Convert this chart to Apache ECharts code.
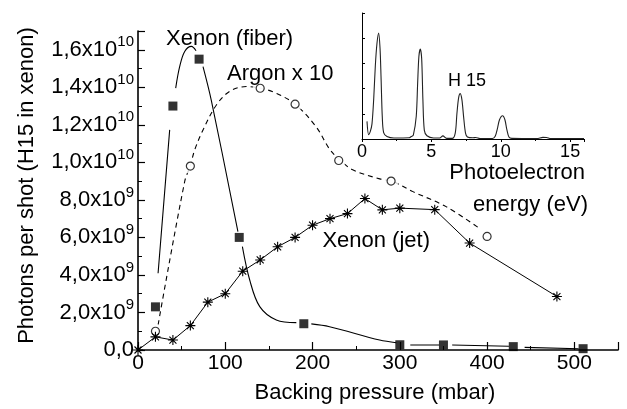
<!DOCTYPE html>
<html>
<head>
<meta charset="utf-8">
<script src="https://cdn.jsdelivr.net/npm/echarts@6/dist/echarts.min.js"></script>
<style>
html,body{margin:0;padding:0;background:#fff;}
#chart{width:627px;height:409px;}
</style>
</head>
<body>
<div id="chart"></div>
<script>
// ---------- data (photons per shot in units of 1e9) ----------
const fiberP = [20, 40, 70, 116, 190, 300, 350, 430, 510];
const fiberY = [2.3, 13.0, 15.5, 6.0, 1.4, 0.28, 0.27, 0.18, 0.07];

// visible pieces of the fitted xenon (fiber) curve, null = break
const fiberCurveP = [23, 36.3, 40, 43.2, 47.8, 53.5, 61.2, 66.5, 70, 74.5, 84, 114.5, 116, 119.6, 128, 139.5, 158.5, 181.4, 190, 198.6, 219.5, 276.9, 296, 300, 312, 345, 350, 360, 425, 430, 443, 505];
const fiberCurveY = [4.09, 11.73, null, 13.96, 15.11, 15.91, 16.18, 15.95, null, 15.1, 13.3, 6.31, null, 5.51, 3.73, 2.31, 1.6, 1.46, null, 1.39, 1.24, 0.53, 0.39, null, 0.27, 0.27, null, 0.27, 0.2, null, 0.14, 0.07];

const argonP = [20, 60, 140, 180, 230, 290, 400];
const argonY = [1.0, 9.8, 13.95, 13.1, 10.1, 9.0, 6.05];

const argonCurveP = [23, 53.5, 60, 65, 74.5, 90, 105, 124, 141, 158, 180, 204, 220, 232, 246, 277, 292, 315, 353, 391];
const argonCurveY = [1.33, 8.98, 9.83, 10.67, 11.73, 13.07, 13.78, 14.04, 13.95, 13.69, 13.1, 11.9, 10.67, 10.1, 9.6, 9.12, 8.98, 8.44, 7.64, 6.49];

const jetP = [0, 20, 40, 60, 80, 100, 120, 140, 160, 180, 200, 220, 240, 260, 280, 300, 340, 380, 480];
const jetY = [0, 0.7, 0.53, 1.3, 2.55, 3.0, 4.2, 4.8, 5.5, 6.0, 6.65, 7.0, 7.27, 8.07, 7.47, 7.56, 7.48, 5.7, 2.85];

// inset photoelectron spectrum (relative intensity)
const specE = [0.36, 0.48, 0.6, 0.72, 0.84, 0.96, 1.08, 1.2, 1.3, 1.37, 1.46, 1.56, 1.8, 2.3, 3.4, 3.55, 3.7, 3.91, 4.01, 4.1, 4.2, 4.3, 4.39, 4.49, 4.68, 5.16, 5.6, 5.83, 6.1, 6.5, 6.72, 6.84, 6.96, 7.08, 7.2, 7.32, 7.46, 7.6, 8.0, 8.2, 8.5, 9.4, 9.6, 9.77, 9.91, 10.13, 10.3, 10.44, 10.59, 10.8, 12.6, 13.04, 13.3, 13.6, 16];
const specI = [0.14, 0.034, 0.06, 0.12, 0.31, 0.58, 0.76, 0.84, 0.72, 0.5, 0.18, 0.05, 0.02, 0.008, 0.01, 0.02, 0.03, 0.18, 0.44, 0.655, 0.714, 0.64, 0.31, 0.07, 0.026, 0.008, 0.008, 0.025, 0.005, 0.005, 0.047, 0.2, 0.325, 0.36, 0.312, 0.18, 0.047, 0.016, 0.01, 0.012, 0.004, 0.004, 0.021, 0.087, 0.153, 0.185, 0.153, 0.074, 0.016, 0.005, 0.003, 0.013, 0.012, 0.003, 0.003];

// tick labels
const xTicks = [0, 100, 200, 300, 400, 500];
const yTickValues = [0, 2, 4, 6, 8, 10, 12, 14, 16];
const yTickText = ['0,0', '2,0x10', '4,0x10', '6,0x10', '8,0x10', '1,0x10', '1,2x10', '1,4x10', '1,6x10'];
const yTickExp = ['', '9', '9', '9', '9', '10', '10', '10', '10'];
const insetXTicks = [0, 5, 10, 15];

// ---------- chart ----------
const FONT = '"Liberation Sans", Arial, Helvetica, sans-serif';
const zip = (a, b) => a.map((v, i) => [v, b[i]]);

const STAR = 'path://M8.9 0H11.1V20H8.9Z M0 8.9H20V11.1H0Z M3.78 2.21L17.79 16.22L16.22 17.79L2.21 3.78Z M16.22 2.21L17.79 3.78L3.78 17.79L2.21 16.22Z';

const chart = echarts.init(document.getElementById('chart'), null, {renderer: 'canvas'});

const option = {
  animation: false,
  backgroundColor: '#fff',
  textStyle: {fontFamily: FONT, color: '#000'},
  grid: [
    {left: 138, right: 9, top: 31, bottom: 59},
    {left: 362, right: 43, top: 13, bottom: 270}
  ],
  xAxis: [
    {
      gridIndex: 0, type: 'value', min: 0, max: 550, interval: 100,
      axisLine: {show: true, onZero: false, lineStyle: {color: '#000', width: 1.6}},
      axisTick: {show: true, inside: true, length: 8, lineStyle: {color: '#000', width: 1.2}},
      minorTick: {show: true, splitNumber: 2, length: 4, lineStyle: {color: '#000', width: 1}},
      splitLine: {show: false},
      axisLabel: {
        fontSize: 21, color: '#000', margin: 3, fontFamily: FONT,
        formatter: v => xTicks.indexOf(v) >= 0 ? String(v) : ''
      },
      name: 'Backing pressure (mbar)', nameLocation: 'middle', nameGap: 32,
      nameTextStyle: {fontSize: 22, color: '#000', fontFamily: FONT, padding: [0, 6, 0, 0]}
    },
    {
      gridIndex: 1, type: 'value', min: 0, max: 16, interval: 5,
      axisLine: {show: true, onZero: false, lineStyle: {color: '#000', width: 1}},
      axisTick: {show: true, inside: false, length: 3, lineStyle: {color: '#000', width: 1}},
      minorTick: {show: true, splitNumber: 2, length: 2, lineStyle: {color: '#000', width: 1}},
      splitLine: {show: false},
      axisLabel: {
        fontSize: 18, color: '#000', margin: 4, fontFamily: FONT,
        formatter: v => insetXTicks.indexOf(v) >= 0 ? String(v) : ''
      }
    }
  ],
  yAxis: [
    {
      gridIndex: 0, type: 'value', min: 0, max: 17, interval: 2,
      axisLine: {show: true, onZero: false, lineStyle: {color: '#000', width: 1.6}},
      axisTick: {show: true, inside: true, length: 7, lineStyle: {color: '#000', width: 1.2}},
      minorTick: {show: true, splitNumber: 2, length: 4, lineStyle: {color: '#000', width: 1}},
      splitLine: {show: false},
      axisLabel: {
        margin: 4, color: '#000', fontSize: 22, fontFamily: FONT, lineHeight: 30,
        formatter: v => {
          const i = yTickValues.indexOf(v);
          if (i < 0) return '';
          return yTickExp[i] ? yTickText[i] + '{s|' + yTickExp[i] + '}' : yTickText[i];
        },
        rich: {s: {fontSize: 15, fontFamily: FONT, color: '#000', verticalAlign: 'top', lineHeight: 30}}
      },
      name: 'Photons per shot (H15 in xenon)', nameLocation: 'middle', nameGap: 100,
      nameTextStyle: {fontSize: 22, color: '#000', fontFamily: FONT, padding: [0, 0, 0, 10]}
    },
    {
      gridIndex: 1, type: 'value', min: 0, max: 1, interval: 0.2,
      axisLine: {show: true, onZero: false, lineStyle: {color: '#000', width: 1}},
      axisTick: {show: true, inside: true, length: 3, lineStyle: {color: '#000', width: 1}},
      splitLine: {show: false},
      axisLabel: {show: false}
    }
  ],
  series: [
    {
      name: 'fiber curve', type: 'line', xAxisIndex: 0, yAxisIndex: 0, z: 2,
      data: zip(fiberCurveP, fiberCurveY), smooth: 0.35, connectNulls: false,
      showSymbol: false, symbol: 'none',
      lineStyle: {color: '#000', width: 1.1}
    },
    {
      name: 'argon curve', type: 'line', xAxisIndex: 0, yAxisIndex: 0, z: 2,
      data: zip(argonCurveP, argonCurveY), smooth: 0.35,
      showSymbol: false, symbol: 'none',
      lineStyle: {color: '#000', width: 1.1, type: [5, 4]}
    },
    {
      name: 'argon mask', type: 'scatter', xAxisIndex: 0, yAxisIndex: 0, z: 3,
      data: zip(argonP, argonY), symbol: 'circle', symbolSize: 15,
      itemStyle: {color: '#fff'}, silent: true
    },
    {
      name: 'Argon x 10', type: 'scatter', xAxisIndex: 0, yAxisIndex: 0, z: 4,
      data: zip(argonP, argonY), symbol: 'circle', symbolSize: 8,
      itemStyle: {color: '#fff', borderColor: '#000', borderWidth: 1.2}
    },
    {
      name: 'Xenon (fiber)', type: 'scatter', xAxisIndex: 0, yAxisIndex: 0, z: 4,
      data: zip(fiberP, fiberY), symbol: 'rect', symbolSize: 9,
      itemStyle: {color: '#000'}
    },
    {
      name: 'Xenon (jet)', type: 'line', xAxisIndex: 0, yAxisIndex: 0, z: 5,
      data: zip(jetP, jetY), symbol: STAR, symbolSize: 10, showAllSymbol: true,
      lineStyle: {color: '#000', width: 1}, itemStyle: {color: '#000'}
    },
    {
      name: 'spectrum', type: 'line', xAxisIndex: 1, yAxisIndex: 1, z: 2,
      data: zip(specE, specI), smooth: 0.3, showSymbol: false, symbol: 'none',
      lineStyle: {color: '#222', width: 1.1}
    }
  ],
  graphic: [
    {type: 'text', x: 166, y: 39, z: 100, style: {text: 'Xenon (fiber)', font: '22px ' + FONT, fill: '#000', align: 'left', verticalAlign: 'middle'}},
    {type: 'text', x: 227, y: 74, z: 100, style: {text: 'Argon x 10', font: '22px ' + FONT, fill: '#000', align: 'left', verticalAlign: 'middle'}},
    {type: 'text', x: 430, y: 241, z: 100, style: {text: 'Xenon (jet)', font: '22px ' + FONT, fill: '#000', align: 'right', verticalAlign: 'middle'}},
    {type: 'text', x: 448, y: 81, z: 100, style: {text: 'H 15', font: '18px ' + FONT, fill: '#000', align: 'left', verticalAlign: 'middle'}},
    {type: 'text', x: 585, y: 173, z: 100, style: {text: 'Photoelectron', font: '22px ' + FONT, fill: '#000', align: 'right', verticalAlign: 'middle'}},
    {type: 'text', x: 588, y: 205, z: 100, style: {text: 'energy (eV)', font: '22px ' + FONT, fill: '#000', align: 'right', verticalAlign: 'middle'}}
  ]
};
chart.setOption(option);
</script>
</body>
</html>
